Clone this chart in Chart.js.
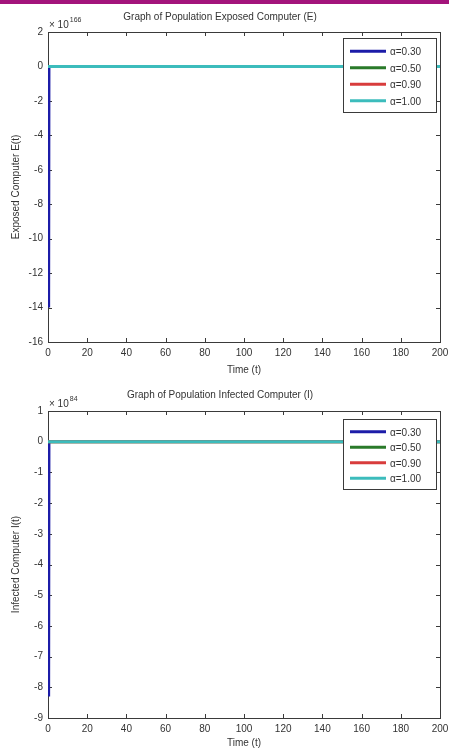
<!DOCTYPE html>
<html>
<head>
<meta charset="utf-8">
<title>Population Exposed / Infected Computer</title>
<script src="https://cdn.jsdelivr.net/npm/chart.js@4.4.1/dist/chart.umd.min.js"></script>
<style>
  html, body { margin: 0; padding: 0; background: #fff; }
  body { width: 449px; height: 749px; position: relative; overflow: hidden; }
  .topbar { position: absolute; left: 0; top: 0; width: 449px; height: 4px; background: #a3147b; }
  canvas { position: absolute; left: 0; }
  #chartE { top: 0; }
  #chartI { top: 376px; }
</style>
</head>
<body>
<div class="topbar"></div>
<canvas id="chartE" width="449" height="376"></canvas>
<canvas id="chartI" width="449" height="373"></canvas>
<script>
/* series labels + colours (MATLAB b / g / r / c) */
const alphaLabels = ["α=0.30", "α=0.50", "α=0.90", "α=1.00"];
const lineColors = ["#1c1ca8", "#2a7a2a", "#d83c3c", "#3cbcbc"];

/* Exposed computer E(t), values in units of 10^166 */
const tE      = [0, 0.4, 0.5, 0.6, 200];
const eA030   = [0, -7, -14, 0, 0];
const eA050   = [0, 0, 0, 0, 0];
const eA090   = [0, 0, 0, 0, 0];
const eA100   = [0, 0, 0, 0, 0];

/* Infected computer I(t), values in units of 10^84 */
const tI      = [0, 0.4, 0.5, 0.6, 200];
const iA030   = [0, -4.2, -8.3, 0, 0];
const iA050   = [0, 0, 0, 0, 0];
const iA090   = [0, 0, 0, 0, 0];
const iA100   = [0, 0, 0, 0, 0];

const xTicks = [0, 20, 40, 60, 80, 100, 120, 140, 160, 180, 200];

const FONT = "'Liberation Sans', Arial, sans-serif";
const INK = "#333";

Chart.defaults.font.family = FONT;
Chart.defaults.font.size = 10;
Chart.defaults.color = INK;
Chart.defaults.animation = false;

const pts = (t, v) => t.map((x, i) => ({ x, y: v[i] }));

/* box + inward tick marks under the data, exponent and legend on top (MATLAB-style) */
const matlabAxes = {
  id: "matlabAxes",
  beforeDatasetsDraw(chart) {
    const { ctx, chartArea: a, scales: { x, y } } = chart;
    ctx.save();
    ctx.strokeStyle = "#3a3a3a";
    ctx.lineWidth = 1;
    ctx.strokeRect(Math.round(a.left) + 0.5, Math.round(a.top) + 0.5, Math.round(a.width), Math.round(a.height));
    ctx.beginPath();
    x.ticks.forEach((t) => {
      const px = Math.round(x.getPixelForValue(t.value)) + 0.5;
      ctx.moveTo(px, a.bottom); ctx.lineTo(px, a.bottom - 4);
      ctx.moveTo(px, a.top); ctx.lineTo(px, a.top + 4);
    });
    y.ticks.forEach((t) => {
      const py = Math.round(y.getPixelForValue(t.value)) + 0.5;
      ctx.moveTo(a.left, py); ctx.lineTo(a.left + 4, py);
      ctx.moveTo(a.right, py); ctx.lineTo(a.right - 4, py);
    });
    ctx.stroke();
    ctx.restore();
  },
  afterDatasetsDraw(chart, args, opts) {
    const { ctx, chartArea: a } = chart;
    ctx.save();
    // "x 10^N" multiplier above the y axis
    ctx.fillStyle = INK;
    ctx.textBaseline = "alphabetic";
    ctx.font = `10px ${FONT}`;
    const base = "× 10";
    ctx.fillText(base, a.left + 1, a.top - 4);
    const bw = ctx.measureText(base).width;
    ctx.font = `7px ${FONT}`;
    ctx.fillText(opts.exponent, a.left + 2 + bw, a.top - 10);

    // legend box, top-right inside the axes
    const lg = opts.legend;
    const bx = a.right - 4 - lg.width, by = a.top + lg.offset;
    const bh = lg.row * chart.data.datasets.length + 8;
    ctx.fillStyle = "#fff";
    ctx.fillRect(bx, by, lg.width, bh);
    ctx.strokeStyle = "#3a3a3a";
    ctx.lineWidth = 1;
    ctx.strokeRect(Math.round(bx) + 0.5, Math.round(by) + 0.5, lg.width, bh);
    ctx.font = `10px ${FONT}`;
    ctx.textBaseline = "middle";
    chart.data.datasets.forEach((ds, i) => {
      const ry = by + 4 + lg.row * (i + 0.5) + 1;
      ctx.strokeStyle = ds.borderColor;
      ctx.lineWidth = 3;
      ctx.beginPath();
      ctx.moveTo(bx + 7, ry); ctx.lineTo(bx + 43, ry);
      ctx.stroke();
      ctx.fillStyle = INK;
      ctx.fillText(ds.label, bx + 47, ry + 1);
    });
    ctx.restore();
  },
};

function makeChart(id, opt) {
  return new Chart(document.getElementById(id), {
    type: "line",
    data: {
      datasets: opt.series.map((v, i) => ({
        label: alphaLabels[i],
        data: pts(opt.t, v),
        borderColor: lineColors[i],
        backgroundColor: lineColors[i],
        borderWidth: i === 0 ? 2.5 : 3,
        pointRadius: 0,
        tension: 0,
        order: opt.series.length - i,
      })),
    },
    options: {
      responsive: false,
      layout: { padding: { left: 0, right: 9, top: 0, bottom: 0 } },
      plugins: {
        legend: { display: false },
        tooltip: { enabled: false },
        title: {
          display: true,
          text: opt.title,
          color: INK,
          font: { size: 10, weight: "normal" },
          padding: opt.titlePad,
        },
        matlabAxes: { exponent: opt.exponent, legend: opt.legend },
      },
      scales: {
        x: {
          type: "linear",
          min: 0, max: 200,
          afterBuildTicks: (s) => { s.ticks = xTicks.map((value) => ({ value })); },
          grid: { display: false, drawTicks: false },
          border: { display: false },
          ticks: { padding: 5, color: INK, font: { size: 10 } },
          title: { display: true, text: "Time (t)", color: INK, font: { size: 10 }, padding: { top: 2, bottom: 0 } },
          afterFit: (s) => { s.height = opt.xHeight; s.paddingLeft = 0; s.paddingRight = 0; },
        },
        y: {
          min: opt.yMin, max: opt.yMax,
          ticks: { stepSize: opt.yStep, padding: 5, color: INK, font: { size: 10 } },
          grid: { display: false, drawTicks: false },
          border: { display: false },
          title: { display: true, text: opt.yTitle, color: INK, font: { size: 10 }, padding: { top: 10, bottom: 0 } },
          afterFit: (s) => { s.width = 48; s.paddingTop = 0; s.paddingBottom = 0; },
        },
      },
    },
    plugins: [matlabAxes],
  });
}

makeChart("chartE", {
  t: tE,
  series: [eA030, eA050, eA090, eA100],
  title: "Graph of Population Exposed Computer (E)",
  titlePad: { top: 11, bottom: 9 },
  yTitle: "Exposed Computer E(t)",
  yMin: -16, yMax: 2, yStep: 2,
  exponent: "166",
  xHeight: 34,
  legend: { width: 93, offset: 6, row: 16.5 },
});

makeChart("chartI", {
  t: tI,
  series: [iA030, iA050, iA090, iA100],
  title: "Graph of Population Infected Computer (I)",
  titlePad: { top: 13, bottom: 10 },
  yTitle: "Infected Computer I(t)",
  yMin: -9, yMax: 1, yStep: 1,
  exponent: "84",
  xHeight: 31,
  legend: { width: 93, offset: 8, row: 15.5 },
});
</script>
</body>
</html>
